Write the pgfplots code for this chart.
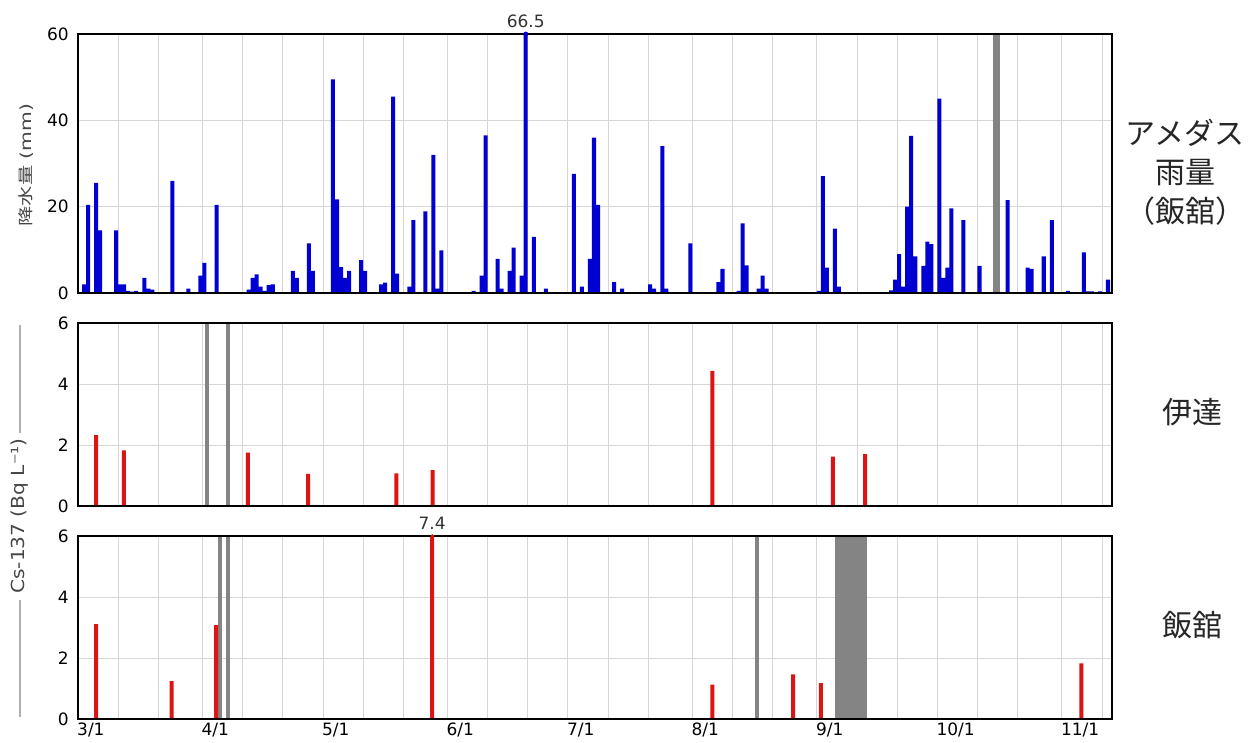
\documentclass[border=0pt]{standalone}
\usepackage{pgfplots}
\pgfplotsset{compat=1.18}
\usepackage{fontspec}
\setmainfont{DejaVu Sans}
\newfontfamily\cjk{Noto Sans CJK JP}
\definecolor{rainblue}{RGB}{0,0,210}
\definecolor{csred}{RGB}{221,20,20}
\definecolor{miss}{RGB}{132,132,132}
\definecolor{gridc}{RGB}{214,214,214}
\definecolor{labc}{RGB}{70,70,70}
\definecolor{linec}{RGB}{175,175,175}

\pgfplotsset{
  /pgfplots/layers/gridbelow/.define layer set={
    axis background,axis grid,main,axis ticks,axis lines,
    axis tick labels,axis descriptions,axis foreground
  }{/pgfplots/layers/standard},
  panel/.style={
    set layers=gridbelow,
    scale only axis, width=1034pt,
    xmin=0, xmax=257.5, ymin=0,
    xtick={0,31,61,92,122,153,184,214,245},
    minor xtick={10,20,41,51,71,81,102,112,132,142,163,173,194,204,224,234,255},
    xmajorgrids, xminorgrids, ymajorgrids,
    grid style={gridc, line width=0.9pt},
    minor grid style={gridc, line width=0.9pt},
    major tick length=0pt, minor tick length=0pt,
    axis line style={black, line width=2pt},
    tick label style={font=\fontsize{17}{17}\selectfont, text=black},
    /pgf/number format/assume math mode=true,
    yticklabel style={anchor=east, inner sep=0pt, xshift=-9pt},
    xticklabels={},
    clip mode=individual,
    clip marker paths=false,
  },
}

\pgfplotstableread{
x y
1.5 2.0
2.5 20.4
4.5 25.5
5.5 14.5
9.5 14.5
10.5 2.0
11.5 2.0
12.5 0.5
13.5 0.3
14.5 0.5
16.5 3.5
17.5 1.0
18.5 0.8
23.5 26.0
27.5 1.0
30.5 4.0
31.5 7.0
34.5 20.4
42.5 0.8
43.5 3.5
44.5 4.3
45.5 1.5
46.5 0.5
47.5 1.8
48.5 2.0
53.5 5.1
54.5 3.5
57.5 11.5
58.5 5.1
63.5 49.5
64.5 21.7
65.5 6.0
66.5 3.5
67.5 5.1
70.5 7.6
71.5 5.1
75.5 2.0
76.5 2.4
78.5 45.5
79.5 4.5
82.5 1.5
83.5 16.9
86.5 18.9
88.5 32.0
89.5 1.0
90.5 9.9
98.5 0.5
100.5 4.0
101.5 36.5
104.5 7.9
105.5 1.0
107.5 5.1
108.5 10.5
110.5 4.0
111.5 66.5
113.5 13.0
116.5 1.0
123.5 27.6
125.5 1.5
127.5 7.9
128.5 36.0
129.5 20.4
133.5 2.5
135.5 1.0
142.5 2.0
143.5 1.0
145.5 34.0
146.5 1.0
152.5 11.5
159.5 2.5
160.5 5.6
164.5 0.5
165.5 16.1
166.5 6.4
169.5 1.0
170.5 4.0
171.5 1.0
184.5 0.5
185.5 27.1
186.5 5.9
188.5 14.9
189.5 1.5
202.5 0.6
203.5 3.1
204.5 9.0
205.5 1.5
206.5 20.0
207.5 36.4
208.5 8.5
210.5 6.3
211.5 11.9
212.5 11.3
214.5 45.0
215.5 3.5
216.5 5.9
217.5 19.6
220.5 16.9
224.5 6.3
231.5 21.5
236.5 5.9
237.5 5.6
240.5 8.5
242.5 16.9
246.5 0.5
250.5 9.4
251.5 0.4
252.5 0.4
254.5 0.4
256.5 3.1
}\raintab

\pgfplotstableread{
x y
4.5 2.32
11.4 1.82
42.3 1.75
57.3 1.05
79.3 1.07
88.3 1.18
158.0 4.43
188.0 1.62
196.0 1.70
}\datetab

\pgfplotstableread{
x y
4.5 3.11
23.3 1.24
34.4 3.08
88.2 7.4
158.0 1.13
178.1 1.46
185.0 1.18
249.9 1.82
}\iitatetab

\begin{document}
\begin{tikzpicture}

% ---------------- top: precipitation ----------------
\begin{axis}[panel, at={(78pt,449pt)}, anchor=south west,
  height=259pt, ymax=60, ytick={0,20,40,60}]
  \addplot[fill=miss, draw=none] coordinates {(227.9,60) (229.5,60)} \closedcycle;
  \addplot[ybar, bar width=1, bar shift=0pt, fill=rainblue, draw=none] table[x=x,y=y] {\raintab};
  \addplot[only marks, mark=*, mark size=2.2pt, rainblue, on layer=axis foreground] coordinates {(111.5,60)};
  \node[anchor=south, inner sep=0pt, yshift=6pt, font=\fontsize{17}{17}\selectfont, text=black!80]
    at (axis cs:111.5,60) {66.5};
\end{axis}

% ---------------- middle: Date ----------------
\begin{axis}[panel, at={(78pt,236pt)}, anchor=south west,
  height=183pt, ymax=6, ytick={0,2,4,6}]
  \addplot[fill=miss, draw=none] coordinates {(31.7,6) (32.6,6)} \closedcycle;
  \addplot[fill=miss, draw=none] coordinates {(36.9,6) (37.8,6)} \closedcycle;
  \addplot[ybar, bar width=1, bar shift=0pt, fill=csred, draw=none] table[x=x,y=y] {\datetab};
\end{axis}

% ---------------- bottom: Iitate ----------------
\begin{axis}[panel, at={(78pt,23pt)}, anchor=south west,
  height=183pt, ymax=6, ytick={0,2,4,6},
  xticklabels={3/1,4/1,5/1,6/1,7/1,8/1,9/1,10/1,11/1},
  xticklabel style={anchor=north west, inner sep=0pt, xshift=-1pt, yshift=-4pt}]
  \addplot[fill=miss, draw=none] coordinates {(34.9,6) (35.8,6)} \closedcycle;
  \addplot[fill=miss, draw=none] coordinates {(36.9,6) (37.8,6)} \closedcycle;
  \addplot[fill=miss, draw=none] coordinates {(168.6,6) (169.6,6)} \closedcycle;
  \addplot[fill=miss, draw=none] coordinates {(188.5,6) (196.5,6)} \closedcycle;
  \addplot[ybar, bar width=1, bar shift=0pt, fill=csred, draw=none] table[x=x,y=y] {\iitatetab};
  \addplot[only marks, mark=*, mark size=1.6pt, csred, on layer=axis foreground] coordinates {(88.2,6)};
  \node[anchor=south, inner sep=0pt, yshift=6pt, font=\fontsize{17}{17}\selectfont, text=black!80]
    at (axis cs:88.2,6) {7.4};
\end{axis}

% ---------------- labels ----------------
\node[rotate=90, inner sep=0pt, text=labc] at (26pt,577pt)
  {\scalebox{1.04}[0.78]{\fontsize{19.5}{20}\selectfont{\cjk 降水量} (mm)}};
\node[rotate=90, inner sep=0pt, text=labc] at (20pt,226pt)
  {\scalebox{1.12}[1]{\fontsize{18}{18}\selectfont Cs-137 (Bq L⁻¹)}};
\draw[linec, line width=1.3pt] (20pt,417pt) -- (20pt,309pt);
\draw[linec, line width=1.3pt] (20pt,142pt) -- (20pt,25pt);

\node[align=center, inner sep=0pt, font=\cjk\fontsize{30}{39}\selectfont, text=black!85]
  at (1185pt,570pt) {アメダス\\雨量\\（飯舘）};
\node[inner sep=0pt, font=\cjk\fontsize{30}{30}\selectfont, text=black!85] at (1192pt,330pt) {伊達};
\node[inner sep=0pt, font=\cjk\fontsize{30}{30}\selectfont, text=black!85] at (1192pt,117pt) {飯舘};
\path (0pt,0pt) rectangle (1249pt,742pt);
\end{tikzpicture}
\end{document}
